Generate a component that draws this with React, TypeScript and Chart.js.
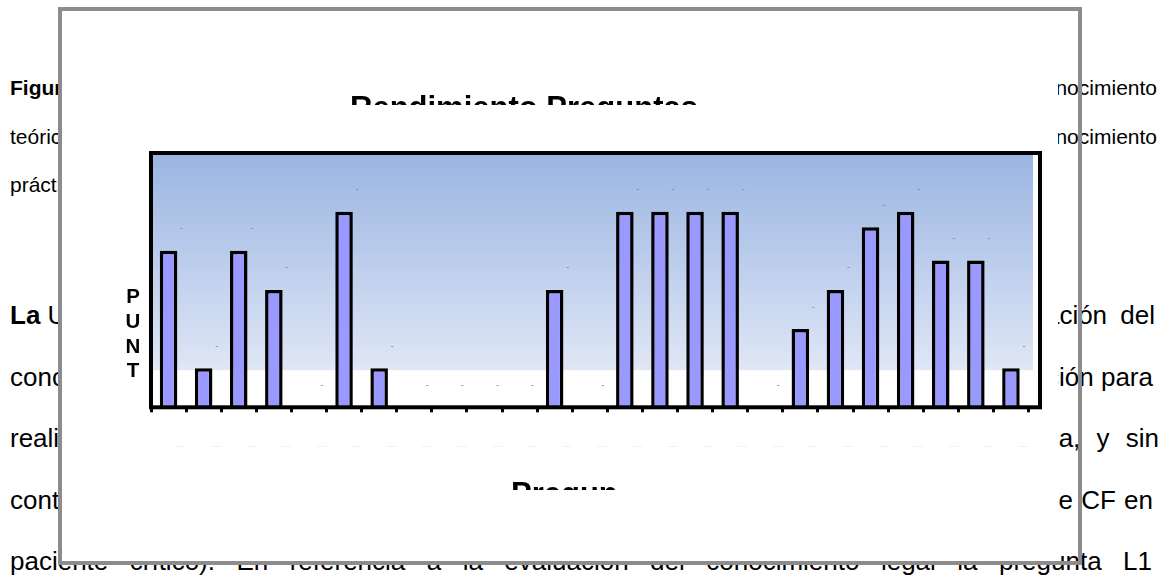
import React, { useEffect, useRef } from "react";
import { Chart, registerables } from "chart.js";

Chart.register(...registerables);

// ---- data ----
const categories = [
  "P1", "P2", "P3", "P4", "P5", "P6", "P7", "P8", "P9", "P10",
  "P11", "P12", "P13", "P14", "P15", "P16", "P17", "P18", "P19", "P20",
  "P21", "P22", "P23", "P24", "P25",
];
const scores = [4, 1, 4, 3, 0, 5, 1, 0, 0, 0, 0, 3, 0, 5, 5, 5, 5, 0, 2, 3, 4.6, 5, 3.75, 3.75, 1];
const yMin = 0;
const yMax = 6.5;

const chartTitle = "Rendimiento Preguntas";
const xTitle = "Preguntas";
const yTitleLetters = ["P", "U", "N", "T"];

const leftLines = ["Figura", "teórico", "práctico"];
const rightLines = ["conocimiento", "conocimiento"];
const bodyLeft = ["conc", "realizar", "contar"];
const bodyRight = ["evaluación del", "ción para", "ma, y sin", "de CF en"];
const lastLine = "paciente crítico). En referencia a la evaluación del conocimiento legal la pregunta L1";

const FONT = '"Liberation Sans", Arial, Helvetica, sans-serif';

const decorPlugin = {
  id: "decor",
  beforeDatasetsDraw(chart: any) {
    const { ctx, chartArea } = chart;
    const { left, top, right, bottom } = chartArea;
    const gBottom = top + (bottom - top) * 0.854;
    const g = ctx.createLinearGradient(0, top, 0, gBottom);
    g.addColorStop(0, "#9bb5e1");
    g.addColorStop(0.5, "#bccdec");
    g.addColorStop(1, "#e0e7f5");
    ctx.save();
    ctx.fillStyle = g;
    ctx.fillRect(left, top, right + 4.5 - left, gBottom - top);
    ctx.restore();
  },
  afterDatasetsDraw(chart: any) {
    const { ctx, chartArea } = chart;
    const { left, top, right, bottom } = chartArea;
    const meta = chart.getDatasetMeta(0);
    ctx.save();
    // tiny value marks
    ctx.font = `9px ${FONT}`;
    ctx.fillStyle = "#808080";
    ctx.textAlign = "center";
    ctx.textBaseline = "middle";
    meta.data.forEach((el: any) => {
      ctx.fillText("-", el.x + 13, el.y - 22);
    });
    // faint clipped category labels
    ctx.font = `10px ${FONT}`;
    ctx.fillStyle = "#efefef";
    meta.data.forEach((el: any) => {
      ctx.fillText("—", el.x + 12.5, bottom + 38.7);
    });
    // plot frame
    ctx.strokeStyle = "#000";
    ctx.lineWidth = 4;
    ctx.strokeRect(left, top, right + 11.5 - left, bottom - top);
    ctx.restore();
  },
};

export default function App() {
  const ref = useRef<HTMLCanvasElement | null>(null);

  useEffect(() => {
    if (!ref.current) return;
    const chart = new Chart(ref.current, {
      type: "bar",
      data: {
        labels: categories,
        datasets: [
          {
            data: scores,
            backgroundColor: "#9999ff",
            borderColor: "#000000",
            borderWidth: 3.5,
            categoryPercentage: 1,
            barPercentage: 0.5,
          },
        ],
      },
      options: {
        animation: false,
        responsive: false,
        devicePixelRatio: 1,
        layout: { padding: { left: 91, top: 143, right: 29.5, bottom: 147.7 } },
        plugins: { legend: { display: false }, tooltip: { enabled: false }, title: { display: false } },
        scales: {
          x: {
            grid: {
              display: true,
              drawOnChartArea: false,
              drawTicks: true,
              tickLength: 5,
              tickWidth: 3,
              tickColor: "#000",
              offset: true,
            },
            border: { display: false },
            ticks: { display: false },
          },
          y: { display: false, min: yMin, max: yMax },
        },
      },
      plugins: [decorPlugin],
    } as any);
    return () => chart.destroy();
  }, []);

  const small = 21;
  const body = 26;
  const topFor = (baseline: number, f: number) => baseline - 0.8465 * f;

  const textBase: React.CSSProperties = {
    position: "absolute",
    fontFamily: FONT,
    whiteSpace: "nowrap",
    color: "#000",
    margin: 0,
  };

  return (
    <div style={{ position: "absolute", left: 0, top: 0, width: 1170, height: 577, background: "#fff", overflow: "hidden" }}>
      {/* document text behind the chart */}
      {leftLines.map((t, i) => (
        <div key={"l" + i} style={{ ...textBase, left: 10, top: topFor([94.5, 143.5, 192][i], small), fontSize: small, lineHeight: small + "px", fontWeight: i === 0 ? "bold" : "normal" }}>
          {t}
        </div>
      ))}
      {rightLines.map((t, i) => (
        <div key={"r" + i} style={{ ...textBase, right: 13, top: topFor([94.5, 143.5][i], small), fontSize: small, lineHeight: small + "px", textAlign: "right" }}>
          {t}
        </div>
      ))}
      <div style={{ ...textBase, left: 10, top: topFor(324, body), fontSize: body, lineHeight: body + "px" }}>
        <b>La</b> Unidad
      </div>
      {bodyLeft.map((t, i) => (
        <div key={"bl" + i} style={{ ...textBase, left: 10, top: topFor([386.5, 447, 509.5][i], body), fontSize: body, lineHeight: body + "px" }}>
          {t}
        </div>
      ))}
      {bodyRight.map((t, i) => (
        <div key={"br" + i} style={{ ...textBase, right: [15, 17, 11, 17][i], top: topFor([324, 386.5, 447, 509.5][i], body), fontSize: body, lineHeight: body + "px", textAlign: "right", wordSpacing: [6, 0, 9, 1][i] }}>
          {t}
        </div>
      ))}
      <div style={{ ...textBase, left: 10, width: 1142, top: topFor(569.7, body), fontSize: body, lineHeight: body + "px", textAlign: "justify", textAlignLast: "justify", whiteSpace: "normal" }}>
        {lastLine}
      </div>

      {/* chart object box */}
      <div style={{ position: "absolute", left: 58, top: 8, width: 1000, height: 553, background: "#fff" }}>
        <canvas ref={ref} width={998} height={550} style={{ position: "absolute", left: 2, top: 2, display: "block" }} />
      </div>

      {/* clipped title */}
      <div style={{ position: "absolute", left: 350, top: 92, width: 365, height: 13, overflow: "hidden" }}>
        <div style={{ ...textBase, left: 0, top: 0, fontSize: 31, lineHeight: "31px", fontWeight: "bold" }}>{chartTitle}</div>
      </div>
      {/* clipped x title */}
      <div style={{ position: "absolute", left: 511, top: 477.6, width: 106, height: 12.4, overflow: "hidden" }}>
        <div style={{ ...textBase, left: 0, top: 0, fontSize: 31, lineHeight: "31px", fontWeight: "bold" }}>{xTitle}</div>
      </div>
      {/* stacked y title */}
      <div style={{ ...textBase, left: 123, top: 284.2, width: 20, textAlign: "center", fontSize: 20.5, lineHeight: "24.7px", fontWeight: "bold" }}>
        {yTitleLetters.map((c, i) => (
          <div key={i}>{c}</div>
        ))}
      </div>

      {/* gray object frame */}
      <div style={{ position: "absolute", left: 58, top: 7, width: 1024, height: 558, border: "4px solid #8c8c8c", boxSizing: "border-box", pointerEvents: "none" }} />
    </div>
  );
}
